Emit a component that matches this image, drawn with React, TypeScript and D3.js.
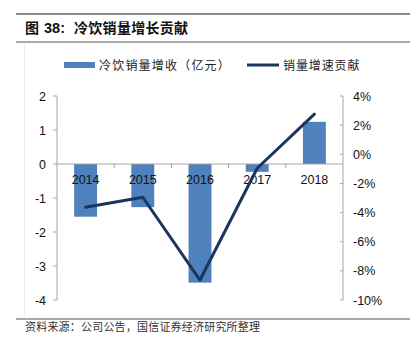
import React from "react";
import * as d3 from "d3";

const categories = ["2014", "2015", "2016", "2017", "2018"];
const revenueChange = [-1.55, -1.27, -3.49, -0.23, 1.24];
const volumeContribution = [-3.64, -2.95, -8.63, -0.96, 2.75];
const leftTicks = [2, 1, 0, -1, -2, -3, -4];
const rightTicks = [4, 2, 0, -2, -4, -6, -8, -10];
const titlePrefix = "图";
const titleNumber = "38:";
const titleText = "冷饮销量增长贡献";
const legendBar = "冷饮销量增收（亿元）";
const legendLine = "销量增速贡献";
const source = "资料来源：公司公告，国信证券经济研究所整理";

const W = 410, H = 344;
const plotL = 57, plotR = 343, plotT = 96, plotB = 300;
const sans = "'Liberation Sans', Arial, sans-serif";
const cjk = "'Noto Sans CJK SC', sans-serif";

export default function App() {
  const x = d3.scaleBand<string>().domain(categories).range([plotL, plotR]).paddingInner(0.6).paddingOuter(0.3);
  const xb = d3.scaleBand<string>().domain(categories).range([plotL, plotR]);
  const yL = d3.scaleLinear().domain([-4, 2]).range([plotB, plotT]);
  const yR = d3.scaleLinear().domain([-10, 4]).range([plotB, plotT]);
  const line = d3.line<number>()
    .x((_, i) => xb(categories[i])! + xb.bandwidth() / 2)
    .y((d) => yR(d));
  const zero = yL(0);
  return (
    <svg width={W} height={H} style={{ position: "absolute", left: 0, top: 0, background: "#fff" }}>
      <line x1={16} x2={410} y1={14} y2={14} stroke="#666" strokeWidth={1.5} />
      <text x={25} y={33} fontFamily={cjk} fontWeight="bold" fontSize={14} fill="#111">{titlePrefix}</text>
      <text x={44} y={33} fontFamily={sans} fontWeight="bold" fontSize={14.5} fill="#111">{titleNumber}</text>
      <text x={74} y={33} fontFamily={cjk} fontWeight="bold" fontSize={14} letterSpacing={0.3} fill="#111">{titleText}</text>
      <line x1={16} x2={410} y1={42} y2={42} stroke="#555" strokeWidth={1.2} />
      <line x1={24.5} x2={24.5} y1={43} y2={318} stroke="#eeeeee" strokeWidth={1} />

      {/* legend */}
      <rect x={64} y={62} width={31} height={6} fill="#4F81BD" />
      <text x={99} y={69.5} fontFamily={cjk} fontSize={12} letterSpacing={1.2} fill="#222">{legendBar}</text>
      <line x1={247} x2={279} y1={65} y2={65} stroke="#1B365D" strokeWidth={3} />
      <text x={283} y={69.5} fontFamily={cjk} fontSize={12} letterSpacing={0.9} fill="#222">{legendLine}</text>

      {/* bars */}
      {revenueChange.map((v, i) => (
        <rect key={categories[i]} x={x(categories[i])} width={x.bandwidth()}
          y={Math.min(yL(v), zero)} height={Math.abs(yL(v) - zero)} fill="#4F81BD" />
      ))}

      {/* left axis */}
      <line x1={plotL} x2={plotL} y1={plotT} y2={plotB} stroke="#a6a6a6" />
      {leftTicks.map((t) => (
        <g key={t}>
          <line x1={plotL - 4} x2={plotL} y1={yL(t)} y2={yL(t)} stroke="#a6a6a6" />
          <text x={46} y={yL(t) + 4.5} textAnchor="end" fontFamily={sans} fontSize={12.5} fill="#111">{t}</text>
        </g>
      ))}

      {/* right axis */}
      <line x1={plotR} x2={plotR} y1={plotT} y2={plotB} stroke="#a6a6a6" />
      {rightTicks.map((t) => (
        <g key={t}>
          <line x1={plotR - 3} x2={plotR} y1={yR(t)} y2={yR(t)} stroke="#a6a6a6" />
          <text x={353} y={yR(t) + 4.5} textAnchor="start" fontFamily={sans} fontSize={12.5} fill="#111">{t}%</text>
        </g>
      ))}

      {/* zero line and category ticks */}
      <line x1={plotL} x2={plotR} y1={zero} y2={zero} stroke="#a6a6a6" />
      {categories.slice(1).map((c) => (
        <line key={c} x1={xb(c)!} x2={xb(c)!} y1={zero} y2={zero + 4} stroke="#a6a6a6" />
      ))}
      {categories.map((c) => (
        <text key={c} x={xb(c)! + xb.bandwidth() / 2} y={zero + 20} textAnchor="middle" fontFamily={sans} fontSize={12.5} fill="#111">{c}</text>
      ))}

      {/* line series */}
      <path d={line(volumeContribution)!} fill="none" stroke="#1B365D" strokeWidth={3} strokeLinejoin="round" strokeLinecap="round" />

      {/* footer */}
      <line x1={16} x2={410} y1={319} y2={319} stroke="#555" strokeWidth={1.2} />
      <text x={25} y={331} fontFamily={cjk} fontSize={11} letterSpacing={0.2} fill="#333">{source}</text>
    </svg>
  );
}
